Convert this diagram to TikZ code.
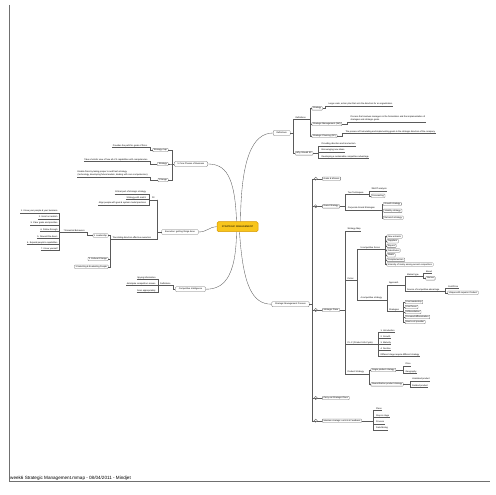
\documentclass[tikz,border=0pt]{standalone}
\usepackage{fontspec}
\newfontfamily\mf{Liberation Sans}
\newcommand\fs{\mf\fontsize{2.2pt}{2.7pt}\selectfont}
\newcommand\fsm{\mf\fontsize{2.2pt}{3.1pt}\selectfont}
\newcommand\conR[3]{\draw[conn] (#1) -| ([xshift=-#3pt]#2) -- (#2);}
\newcommand\conL[3]{\draw[conn] (#1) -| ([xshift=#3pt]#2) -- (#2);}
\definecolor{lg}{HTML}{5A5A5A}
\definecolor{bg}{HTML}{707070}
\definecolor{cfill}{HTML}{F8C51C}
\definecolor{cdraw}{HTML}{D89A00}
\begin{document}
\begin{tikzpicture}[x=1pt,y=-1pt,
 conn/.style={draw=lg,line width=0.35pt},
 ul/.style={append after command={(\tikzlastnode.south west) edge[conn] (\tikzlastnode.south east)}},
 bx/.style={draw=bg,fill=white,rounded corners=0.7pt,line width=0.3pt,font=\fs,inner xsep=1.2pt,inner ysep=0pt,minimum height=3.6pt,text height=1.6pt,text depth=0.45pt},
 lone/.style={bx,inner xsep=3.4pt,minimum height=5pt,rounded corners=1pt},
 tx/.style={font=\fs,inner xsep=0.3pt,inner ysep=0.35pt,text height=1.6pt,text depth=0.45pt,ul},
 txm/.style={font=\fsm,align=left,inner xsep=0.3pt,inner ysep=0.35pt,ul},
 circ/.style={circle,draw=lg,fill=white,inner sep=0pt,minimum size=3.2pt,line width=0.3pt,
   path picture={\draw[line width=0.25pt,lg] ([xshift=0.8pt]path picture bounding box.west) -- ([xshift=-0.8pt]path picture bounding box.east);}},
 ctr/.style={draw=cdraw,fill=cfill,line width=0.5pt,rounded corners=1.5pt,minimum width=41pt,minimum height=10pt,inner sep=0pt,font={\mf\fontsize{2.4pt}{2.8pt}\selectfont}}
]
\useasboundingbox (0,0) rectangle (495,495);
\fill[white] (0,0) rectangle (495,495);

% frame and footer
\draw[draw=bg,line width=0.5pt] (9,5) -- (9,481) -- (490,481);
\node[anchor=south west,inner sep=0pt,font={\mf\fontsize{4.6pt}{5pt}\selectfont}] (foot) at (10,480.3) {week6 Strategic Management.mmap - 08/04/2011 - Mindjet};

% centre
\node[ctr] (c) at (237.5,226.7) {STRATEGIC MANAGEMENT};

% ---------- Definitions ----------
\node[lone] (def1) at (281.7,133) {Definitions};
\node[tx,anchor=south west] (deflbl) at (295,119.3) {Definitions};
\node[bx,anchor=west] (strat) at (311.7,108.3) {Strategy};
\node[bx,anchor=west] (sm) at (311.7,124) {Strategic Management (SM)};
\node[bx,anchor=west] (sp) at (311.7,136) {Strategic Planning (SP)};
\node[tx,anchor=south west] (stratT) at (328,105.8) {Large scale, action plan that sets the direction for an organization.};
\node[txm,anchor=south west] (smT) at (350,121.8) {Process that involves managers in the formulation and the implementation of\\strategies and strategic goals.};
\node[tx,anchor=south west] (spT) at (345,133.2) {The process of formulating and implementing goals in the strategic direction of the company.};
\node[bx,anchor=west] (why) at (295,153.3) {Why Should SP};
\node[tx,anchor=south west] (w1) at (321,145.8) {Providing direction and momentum};
\node[tx,anchor=south west] (w2) at (321,151.8) {Encouraging new ideas};
\node[tx,anchor=south west] (w3) at (321,158.2) {Developing a sustainable competitive advantage};

% ---------- 5 Core Phases ----------
\node[lone] (core) at (191,164) {5 Core Phases of Business};
\node[bx,anchor=east] (smap) at (168.3,150) {Strategy map};
\node[bx,anchor=east] (stg) at (168.3,164) {Strategy};
\node[bx,anchor=east] (chg) at (168.3,180) {Change};
\node[tx,anchor=south east] (smapT) at (148,147.5) {Provides the path for goals of firms.};
\node[tx,anchor=south east] (stgT) at (148,161.5) {Take a holistic view of how all of it capabilities with competencies};
\node[txm,anchor=south east] (chgT) at (148,177) {Enable firms by taking proper to and fresh strategy\\(technology, developing future leaders, dealing with core competencies)};

% ---------- Execution ----------
\node[lone] (exe) at (180,232) {Execution: getting things done};
\node[tx,anchor=south east] (fit) at (155,199.8) {Fit};
\node[tx,anchor=south east] (f1) at (146.5,193.8) {Critical part of strategic strategy};
\node[tx,anchor=south east] (f2) at (146.5,199.6) {Strategy with match};
\node[tx,anchor=south east] (f3) at (146.5,204.8) {Align people with goal \& system model practices};
\node[tx,anchor=south west] (trans) at (112,239.2) {Translating direction effective execution};
\node[bx,anchor=east] (lead) at (108.3,235.5) {1 Leadership};
\node[bx,anchor=east] (cult) at (108.3,259) {2 Cultural Change};
\node[bx,anchor=east] (ppl) at (108.3,266.7) {3 Selecting \& Evaluating People};
\node[tx,anchor=south west] (beh) at (63,232.3) {7 Essential Behaviors};
\node[tx,anchor=south east] (b1) at (58,212.7) {1. Know your people \& your business};
\node[tx,anchor=south east] (b2) at (58,218.7) {2. Insist on realism};
\node[tx,anchor=south east] (b3) at (58,224.7) {3. Clear goals and priorities};
\node[tx,anchor=south east] (b4) at (58,231.4) {4. Follow through};
\node[tx,anchor=south east] (b5) at (58,238.1) {5. Reward the doers};
\node[tx,anchor=south east] (b6) at (58,244.1) {6. Expand people's capabilities};
\node[tx,anchor=south east] (b7) at (58,250.4) {7. Know yourself};

% ---------- Competitive Intelligence ----------
\node[lone] (ci) at (190.5,289.2) {Competitive Intelligence};
\node[tx,anchor=south east] (cdef) at (171,285.5) {Definitions};
\node[tx,anchor=south east] (cd1) at (156,279.2) {Spying information};
\node[tx,anchor=south east] (cd2) at (156,285.5) {Anticipate competitors moves};
\node[tx,anchor=south east] (cd3) at (156,292.2) {Scan appropriately};

% ---------- Strategic Management Process ----------
\node[lone] (smp) at (290.5,304.2) {Strategic Management Process};
\node[bx,anchor=west] (gm) at (322.2,178.7) {Goals \& Mission};
\node[bx,anchor=west] (gs) at (322.2,206.3) {Grand Strategy};
\node[bx,anchor=west] (spl) at (322.2,310) {Strategic Plans};
\node[bx,anchor=west] (cop) at (322.2,398) {Carry out Strategic Plans};
\node[bx,anchor=west] (mc) at (322.2,420.7) {Maintain strategic control \& Feedback};

\node[tx,anchor=south west] (ts) at (347.3,194.2) {Two Techniques};
\node[tx,anchor=south west] (swot) at (371,190.8) {SWOT analysis};
\node[bx,anchor=west] (fc) at (371,195.7) {Forecasting};
\node[tx,anchor=south west] (cgs) at (347.3,209.8) {Corporate Grand Strategies};
\node[bx,anchor=west] (g1) at (383.3,204) {Growth strategy};
\node[bx,anchor=west] (g2) at (383.3,210.8) {Stability strategy};
\node[bx,anchor=west] (g3) at (383.3,217.7) {Retrench strategy};

\node[tx,anchor=south west] (smap2) at (347,230.7) {Strategy Map};
\node[tx,anchor=south west] (porter) at (347,280.4) {Porter};
\node[tx,anchor=south west] (f5) at (360,249.4) {5 competitive forces};
\node[bx,anchor=west] (p1) at (386.7,236.5) {New entrants};
\node[bx,anchor=west] (p2) at (386.7,241.2) {Suppliers};
\node[bx,anchor=west] (p3) at (386.7,245.8) {Buyers};
\node[bx,anchor=west] (p4) at (386.7,250.5) {Substitutes};
\node[bx,anchor=west] (p5) at (386.7,255.2) {Rivals};
\node[bx,anchor=west] (p6) at (386.7,259.8) {Complementors};
\node[bx,anchor=west] (p7) at (386.7,264.5) {Intensity of rivalry among current competitors};
\node[tx,anchor=south west] (cs2) at (360,299.7) {4 competitive strategy};
\node[tx,anchor=south west] (appr) at (388.5,284.7) {Approach};
\node[tx,anchor=south west] (mt) at (406.7,276.4) {Market type};
\node[tx,anchor=south west] (broad) at (425.5,273.1) {Broad};
\node[bx,anchor=west] (narrow) at (425.5,278.3) {Narrow};
\node[tx,anchor=south west] (sca) at (406.7,291.4) {Source of competitive advantage};
\node[tx,anchor=south west] (cp) at (447.5,288.1) {Cost/Price};
\node[bx,anchor=west] (uq) at (447.5,292.7) {Unique with superior Product};
\node[tx,anchor=south west] (strs) at (388.5,311.4) {Strategies};
\node[bx,anchor=west] (s1) at (405,302) {Cost leadership};
\node[bx,anchor=west] (s2) at (405,307) {Cost focus};
\node[bx,anchor=west] (s3) at (405,312) {Differentiation};
\node[bx,anchor=west] (s4) at (405,317) {Focused differentiation};
\node[bx,anchor=west] (s5) at (405,322) {Best-cost provider};

\node[tx,anchor=south west] (plc) at (347,344.4) {P.L.C (Product Life Cycle)};
\node[tx,anchor=south west] (l1) at (380,332.1) {1. Introduction};
\node[tx,anchor=south west] (l2) at (380,338.1) {2. Growth};
\node[tx,anchor=south west] (l3) at (380,344.1) {3. Maturity};
\node[tx,anchor=south west] (l4) at (380,350.4) {4. Decline};
\node[tx,anchor=south west] (l5) at (380,356.4) {Different stage require different strategy};

\node[tx,anchor=south west] (ps) at (347,373.7) {Product Strategy};
\node[bx,anchor=west] (sps) at (370.7,370) {Single product strategy};
\node[bx,anchor=west] (dps) at (370.7,384.3) {Diversification product strategy};
\node[tx,anchor=south west] (pr) at (405,365.7) {Price};
\node[tx,anchor=south west] (geo) at (405,373.1) {Geography};
\node[tx,anchor=south west] (unr) at (411.7,380.7) {Unrelated product};
\node[tx,anchor=south west] (rel) at (411.7,387.4) {Related product};

\node[tx,anchor=south west] (m1) at (375.7,410.4) {Plans};
\node[tx,anchor=south west] (m2) at (375.7,417.4) {Step in stage};
\node[tx,anchor=south west] (m3) at (375.7,423.7) {Process};
\node[tx,anchor=south west] (m4) at (375.7,429.9) {Data Mining};

% ---------- curved main branches ----------
\draw[conn] ([xshift=3pt]c.north) .. controls (241,160) and (252,133) .. (def1.west);
\draw[conn] ([xshift=-1pt]c.north) .. controls (235,175) and (225,164) .. (core.east);
\draw[conn] (exe.east) .. controls (207,232) and (209,227) .. (c.west);
\draw[conn] ([xshift=-1pt]c.south) .. controls (236,280) and (222,289.2) .. (ci.east);
\draw[conn] ([xshift=2pt]c.south) .. controls (243,285) and (252,304.2) .. (smp.west);

% ---------- elbow connectors ----------
\conR{def1.east}{deflbl.south west}{1.7}
\conR{def1.east}{why.west}{1.7}
\conR{deflbl.south east}{strat.west}{1.7}
\conR{deflbl.south east}{sm.west}{1.7}
\conR{deflbl.south east}{sp.west}{1.7}
\conR{strat.east}{stratT.south west}{2.5}
\conR{sm.east}{smT.south west}{3}
\conR{sp.east}{spT.south west}{2.5}
\conR{why.east}{w1.south west}{2.7}
\conR{why.east}{w2.south west}{2.7}
\conR{why.east}{w3.south west}{2.7}

\conL{core.west}{smap.east}{3.4}
\conL{core.west}{stg.east}{3.4}
\conL{core.west}{chg.east}{3.4}
\conL{smap.west}{smapT.south east}{2}
\conL{stg.west}{stgT.south east}{2}
\conL{chg.west}{chgT.south east}{2}

\conL{exe.west}{fit.south east}{2.5}
\draw[conn] (exe.west) -| ([xshift=2.5pt]fit.south east) |- (trans.south east);
\conL{fit.south west}{f1.south east}{2.5}
\conL{fit.south west}{f2.south east}{2.5}
\conL{fit.south west}{f3.south east}{2.5}
\conL{trans.south west}{lead.east}{1.7}
\conL{trans.south west}{cult.east}{1.7}
\conL{trans.south west}{ppl.east}{1.7}
\conL{lead.west}{beh.south east}{2.5}
\conL{beh.south west}{b1.south east}{1.5}
\conL{beh.south west}{b2.south east}{1.5}
\conL{beh.south west}{b3.south east}{1.5}
\conL{beh.south west}{b4.south east}{1.5}
\conL{beh.south west}{b5.south east}{1.5}
\conL{beh.south west}{b6.south east}{1.5}
\conL{beh.south west}{b7.south east}{1.5}

\conL{ci.west}{cdef.south east}{2}
\conL{cdef.south west}{cd1.south east}{2}
\conL{cdef.south west}{cd2.south east}{2}
\conL{cdef.south west}{cd3.south east}{2}

\conR{smp.east}{gm.west}{9.9}
\conR{smp.east}{gs.west}{9.9}
\conR{smp.east}{spl.west}{9.9}
\conR{smp.east}{cop.west}{9.9}
\conR{smp.east}{mc.west}{9.9}

\conR{gs.east}{ts.south west}{2.3}
\conR{gs.east}{cgs.south west}{2.3}
\conR{ts.south east}{swot.south west}{1.7}
\conR{ts.south east}{fc.west}{1.7}
\conR{cgs.south east}{g1.west}{1.6}
\conR{cgs.south east}{g2.west}{1.6}
\conR{cgs.south east}{g3.west}{1.6}

\conR{spl.east}{smap2.south west}{2}
\conR{spl.east}{porter.south west}{2}
\conR{spl.east}{plc.south west}{2}
\conR{spl.east}{ps.south west}{2}
\conR{porter.south east}{f5.south west}{2.7}
\conR{porter.south east}{cs2.south west}{2.7}
\conR{f5.south east}{p1.west}{1.7}
\conR{f5.south east}{p2.west}{1.7}
\conR{f5.south east}{p3.west}{1.7}
\conR{f5.south east}{p4.west}{1.7}
\conR{f5.south east}{p5.west}{1.7}
\conR{f5.south east}{p6.west}{1.7}
\conR{f5.south east}{p7.west}{1.7}
\conR{cs2.south east}{appr.south west}{1.8}
\conR{cs2.south east}{strs.south west}{1.8}
\conR{appr.south east}{mt.south west}{1.7}
\conR{appr.south east}{sca.south west}{1.7}
\conR{mt.south east}{broad.south west}{2}
\conR{mt.south east}{narrow.west}{2}
\conR{sca.south east}{cp.south west}{2.5}
\conR{sca.south east}{uq.west}{2.5}
\conR{strs.south east}{s1.west}{2}
\conR{strs.south east}{s2.west}{2}
\conR{strs.south east}{s3.west}{2}
\conR{strs.south east}{s4.west}{2}
\conR{strs.south east}{s5.west}{2}
\conR{plc.south east}{l1.south west}{1.7}
\conR{plc.south east}{l2.south west}{1.7}
\conR{plc.south east}{l3.south west}{1.7}
\conR{plc.south east}{l4.south west}{1.7}
\conR{plc.south east}{l5.south west}{1.7}
\conR{ps.south east}{sps.west}{2}
\conR{ps.south east}{dps.west}{2}
\conR{sps.east}{pr.south west}{1.7}
\conR{sps.east}{geo.south west}{1.7}
\conR{dps.east}{unr.south west}{1.9}
\conR{dps.east}{rel.south west}{1.9}
\conR{mc.east}{m1.south west}{2.4}
\conR{mc.east}{m2.south west}{2.4}
\conR{mc.east}{m3.south west}{2.4}
\conR{mc.east}{m4.south west}{2.4}

% collapse markers
\node[circ] (k1) at (315.7,178.7) {};
\node[circ] (k2) at (315.7,206.3) {};
\node[circ] (k3) at (315.7,310) {};
\node[circ] (k4) at (315.7,398) {};
\node[circ] (k5) at (315.7,420.7) {};
\end{tikzpicture}
\end{document}
